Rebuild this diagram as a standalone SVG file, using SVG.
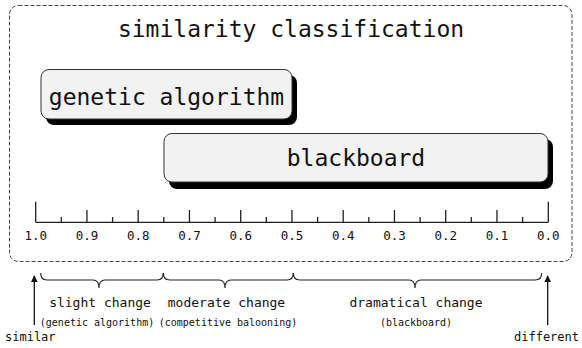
<svg xmlns="http://www.w3.org/2000/svg" width="582" height="348" viewBox="0 0 582 348">
  <defs>
    <style>
      text { font-family: "DejaVu Sans Mono", "Liberation Mono", monospace; fill: #111; }
      .frame { fill: none; stroke: #444; stroke-width: 1; stroke-dasharray: 4 2; }
      .box { fill: #f2f2f2; stroke: #333; stroke-width: 1; }
      .shadow { fill: #000; }
      .big { font-size: 23px; text-anchor: middle; }
      .tick { stroke: #222; stroke-width: 1.3; fill: none; }
      .lbl { font-size: 12.5px; text-anchor: middle; }
      .cat { font-size: 13px; text-anchor: middle; }
      .sub { font-size: 10px; text-anchor: middle; }
      .end { font-size: 12px; }
      .brace { fill: none; stroke: #222; stroke-width: 1.2; }
      .arrow { stroke: #111; stroke-width: 1.3; fill: none; }
    </style>
    <marker id="head" viewBox="0 0 10 10" refX="9" refY="5" markerWidth="7" markerHeight="7" orient="auto" markerUnits="userSpaceOnUse">
      <path d="M0,0 L10,5 L0,10 z" fill="#111"/>
    </marker>
  </defs>

  <!-- dashed frame with title -->
  <g id="frame">
    <rect class="frame" x="9.5" y="5.5" width="562.5" height="256" rx="9" ry="9"/>
    <text class="big" x="291" y="37">similarity classification</text>
  </g>

  <!-- technique boxes -->
  <g id="genetic-algorithm">
    <rect class="shadow" x="46" y="75" width="251" height="50" rx="8" ry="8"/>
    <rect class="box" x="41" y="69.5" width="251" height="49.5" rx="8" ry="8"/>
    <text class="big" x="166.5" y="105">genetic algorithm</text>
  </g>

  <g id="blackboard">
    <rect class="shadow" x="169" y="139" width="384" height="50" rx="8" ry="8"/>
    <rect class="box" x="164" y="133.5" width="384" height="48.5" rx="8" ry="8"/>
    <text class="big" x="356" y="166">blackboard</text>
  </g>

  <!-- similarity scale 1.0 .. 0.0 -->
  <g id="scale">
    <path class="tick" d="M35.7,222.3 H548.3"/>
    <path class="tick" d="M35.7,201.7 V222.3 M548.3,201.7 V222.3"/>
    <path class="tick" d="M86.95,210 V222.3 M138.2,210 V222.3 M189.45,210 V222.3 M240.7,210 V222.3 M291.95,210 V222.3 M343.2,210 V222.3 M394.45,210 V222.3 M445.7,210 V222.3 M496.95,210 V222.3"/>
    <path class="tick" d="M61.3,217 V222.3 M112.6,217 V222.3 M163.8,217 V222.3 M215.1,217 V222.3 M266.3,217 V222.3 M317.6,217 V222.3 M368.8,217 V222.3 M420.1,217 V222.3 M471.3,217 V222.3 M522.6,217 V222.3"/>
    <text class="lbl" x="35.7" y="240">1.0</text>
    <text class="lbl" x="86.95" y="240">0.9</text>
    <text class="lbl" x="138.2" y="240">0.8</text>
    <text class="lbl" x="189.45" y="240">0.7</text>
    <text class="lbl" x="240.7" y="240">0.6</text>
    <text class="lbl" x="291.95" y="240">0.5</text>
    <text class="lbl" x="343.2" y="240">0.4</text>
    <text class="lbl" x="394.45" y="240">0.3</text>
    <text class="lbl" x="445.7" y="240">0.2</text>
    <text class="lbl" x="496.95" y="240">0.1</text>
    <text class="lbl" x="548.3" y="240">0.0</text>
  </g>

  <!-- ranges under the scale -->
  <g id="connectors">
    <path class="brace" d="M40.7,273 Q40.7,280 47,280 L93,280 Q99,280 99,288 Q99,280 105,280 L157,280 Q163.3,280 163.3,273"/>
    <path class="brace" d="M163.3,273 Q163.3,280 170,280 L219,280 Q225,280 225,288 Q225,280 231,280 L287,280 Q293.3,280 293.3,273"/>
    <path class="brace" d="M293.3,273 Q293.3,280 300,280 L409,280 Q415,280 415,288 Q415,280 421,280 L535,280 Q541.7,280 541.7,273"/>
    <line class="arrow" x1="34.3" y1="325" x2="34.3" y2="276" marker-end="url(#head)"/>
    <line class="arrow" x1="547.7" y1="325" x2="547.7" y2="276" marker-end="url(#head)"/>
  </g>

  <g id="slight-change">
    <text class="cat" x="100" y="307">slight change</text>
    <text class="sub" x="97" y="326">(genetic algorithm)</text>
  </g>
  <g id="moderate-change">
    <text class="cat" x="226.5" y="307">moderate change</text>
    <text class="sub" x="228" y="326">(competitive balooning)</text>
  </g>
  <g id="dramatical-change">
    <text class="cat" x="416" y="307">dramatical change</text>
    <text class="sub" x="416" y="326">(blackboard)</text>
  </g>

  <g id="similar">
    <text class="end" x="5" y="341">similar</text>
  </g>
  <g id="different">
    <text class="end" x="514" y="341">different</text>
  </g>
</svg>
